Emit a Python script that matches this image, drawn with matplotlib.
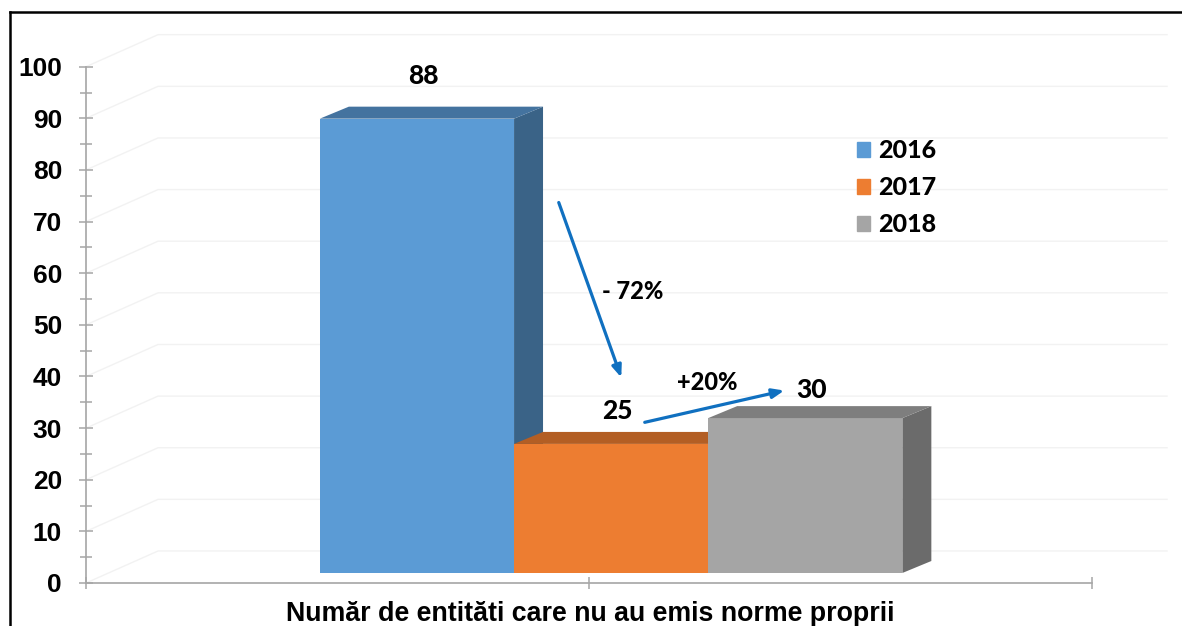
import matplotlib
matplotlib.use("Agg")
import matplotlib.pyplot as plt
from matplotlib.patches import Polygon, Patch
from matplotlib.lines import Line2D

# data
years = ["2016", "2017", "2018"]
values = [88, 25, 30]
category = "Număr de entităti care nu au emis norme proprii"
changes = ["- 72%", "+20%"]

front_colors = ["#5B9BD5", "#ED7D31", "#A5A5A5"]
top_colors = ["#44739F", "#B35E24", "#7E7E7E"]
side_colors = ["#3A6387", "#A85720", "#6B6B6B"]

W, H = 1182, 626
fig = plt.figure(figsize=(W / 100, H / 100), dpi=100)
ax = fig.add_axes([86 / W, (H - 583) / H, (1175 - 86) / W, (583 - 25) / H])
ax.set_xlim(0, (1175 - 86) / 1006)
ax.set_ylim(0, (583 - 25) / 5.163)
ax.patch.set_alpha(0)

# pseudo-3d geometry (data units)
wall_dx, wall_dy = 0.0716, 6.2
bar_dx, bar_dy = 0.0288, 2.32
floor = 1.94
width = 0.193
shift = 0.022
label_gap = [8.3, 6.4, 5.4]

# back wall gridlines
for v in range(0, 101, 10):
    ax.plot([0, wall_dx, 1.0746], [v, v + wall_dy, v + wall_dy],
            color="#f2f2f2", lw=1, zorder=1, clip_on=False)

# bars
for i, (v, fc, tc, sc) in enumerate(zip(values, front_colors, top_colors, side_colors)):
    x = 0.5 + shift + (i - 1) * width
    z = 3 + i * 3
    ax.bar(x, v, width, bottom=floor, color=fc, zorder=z)
    left, right, top = x - width / 2, x + width / 2, floor + v
    ax.add_patch(Polygon([(left, top), (left + bar_dx, top + bar_dy),
                          (right + bar_dx, top + bar_dy), (right, top)],
                         closed=True, color=tc, zorder=z, lw=0))
    ax.add_patch(Polygon([(right, floor), (right + bar_dx, floor + bar_dy),
                          (right + bar_dx, top + bar_dy), (right, top)],
                         closed=True, color=sc, zorder=z - 1, lw=0))
    ax.text(x + 0.006, top + label_gap[i], str(v), ha="center", va="center",
            fontsize=19, fontweight="black", family="Lato", zorder=20)

# change arrows
arrow_kw = dict(arrowstyle="-|>,head_length=0.7,head_width=0.28", color="#1070C0", lw=2.3)
ax.annotate("", xy=(0.533, 39.3), xytext=(0.469, 74.2), arrowprops=arrow_kw, zorder=20)
ax.annotate("", xy=(0.6968, 37.4), xytext=(0.5527, 31.0), arrowprops=arrow_kw, zorder=20)
ax.text(0.5437, 56.4, changes[0], ha="center", va="center", fontsize=17,
        fontweight="black", family="Lato", zorder=20)
ax.text(0.6173, 38.9, changes[1], ha="center", va="center", fontsize=17,
        fontweight="black", family="Lato", zorder=20)

# axes
for s in ["top", "right"]:
    ax.spines[s].set_visible(False)
for s in ["left", "bottom"]:
    ax.spines[s].set_color("#a6a6a6")
    ax.spines[s].set_linewidth(1.2)
ax.spines["left"].set_bounds(0, 100)
ax.spines["bottom"].set_bounds(0, 1)
ax.set_yticks(range(0, 101, 10))
ax.set_yticks(range(5, 100, 10), minor=True)
ax.set_xticks([0, 0.5, 1])
ax.set_xticklabels([])
ax.tick_params(axis="y", which="major", direction="inout", length=9.4, width=1.1,
               color="#a6a6a6", pad=12.5, labelsize=19)
ax.tick_params(axis="y", which="minor", direction="inout", length=8, width=1.1,
               color="#a6a6a6")
ax.tick_params(axis="x", direction="inout", length=9, width=1.1, color="#a6a6a6")
for lbl in ax.get_yticklabels():
    lbl.set_fontweight("bold")
    lbl.set_family("Liberation Sans")

fig.text(590 / W, 1 - 621 / H, category, ha="center", va="baseline", fontsize=19.3,
         fontweight="bold", family="Liberation Sans")

# legend
handles = [Patch(color=c) for c in front_colors]
leg = fig.legend(handles, years, loc="upper left", bbox_to_anchor=(834 / W, 1 - 117 / H),
                 frameon=False, handlelength=0.55, handleheight=0.55,
                 handletextpad=0.3, labelspacing=0.55,
                 prop={"family": "Lato", "weight": "black", "size": 18})

# outer frame
fig.add_artist(Line2D([10 / W, 10 / W], [0, 1 - 11.5 / H], color="black", lw=1.8))
fig.add_artist(Line2D([10 / W, 1], [1 - 12 / H, 1 - 12 / H], color="black", lw=1.8))

fig.savefig("out.png", dpi=100)
